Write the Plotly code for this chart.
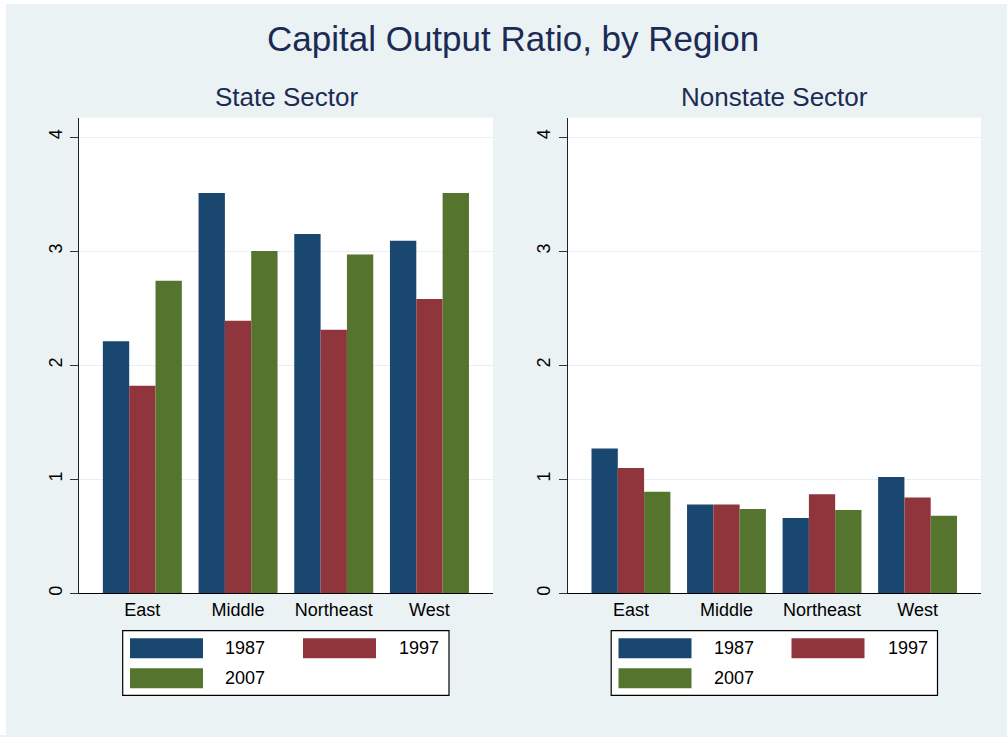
import plotly.graph_objects as go

# ---------------- data ----------------
regions = ["East", "Middle", "Northeast", "West"]
years = ["1987", "1997", "2007"]

state_1987 = [2.21, 3.51, 3.15, 3.09]
state_1997 = [1.82, 2.39, 2.31, 2.58]
state_2007 = [2.74, 3.00, 2.97, 3.51]

nonstate_1987 = [1.27, 0.78, 0.66, 1.02]
nonstate_1997 = [1.10, 0.78, 0.87, 0.84]
nonstate_2007 = [0.89, 0.74, 0.73, 0.68]

y_ticks = [0, 1, 2, 3, 4]

title_text = "Capital Output Ratio, by Region"
panel_titles = ["State Sector", "Nonstate Sector"]

# ---------------- styles ----------------
W, H = 1007, 737
colors = ["#1A476F", "#90353B", "#55752F"]
bg = "#EAF2F3"
title_col = "#1C2B55"
FONT = "Liberation Sans, Arial, sans-serif"


def px(x):
    return x / W


def py(y):
    return 1 - y / H


fig = go.Figure()

state_series = [state_1987, state_1997, state_2007]
nonstate_series = [nonstate_1987, nonstate_1997, nonstate_2007]

for i, (yr, vals) in enumerate(zip(years, state_series)):
    fig.add_trace(go.Bar(x=regions, y=vals, name=yr, marker=dict(color=colors[i], line=dict(width=0)),
                         xaxis="x", yaxis="y", showlegend=False, offsetgroup=str(i)))
for i, (yr, vals) in enumerate(zip(years, nonstate_series)):
    fig.add_trace(go.Bar(x=regions, y=vals, name=yr, marker=dict(color=colors[i], line=dict(width=0)),
                         xaxis="x2", yaxis="y2", showlegend=False, offsetgroup=str(i)))

y_bottom, y_top = 595, 118
unit = 114.4
yr_top = (y_bottom - y_top) / unit

panels = [(79, 493), (567.7, 981)]

xaxis_common = dict(
    type="category", range=[-0.662, 3.664], showgrid=False, ticks="",
    showline=True, linecolor="black", linewidth=1.2,
    tickfont=dict(family=FONT, size=18, color="black"), fixedrange=True,
    ticklabelstandoff=0,
)
yaxis_common = dict(
    range=[0, yr_top], tickvals=y_ticks, ticktext=[str(v) for v in y_ticks],
    tickangle=-90, ticks="outside", ticklen=8, tickcolor="#333333", tickwidth=1,
    showline=True, linecolor="#222222", linewidth=1.2,
    showgrid=True, gridcolor="#E6EFF2", gridwidth=1.3, zeroline=False,
    tickfont=dict(family=FONT, size=18, color="black"), fixedrange=True,
    ticklabelstandoff=1,
)

fig.update_layout(
    width=W, height=H,
    margin=dict(l=0, r=0, t=0, b=0),
    paper_bgcolor=bg, plot_bgcolor="white",
    barmode="group", bargap=0.1745, bargroupgap=0,
    showlegend=False,
    xaxis=dict(domain=[px(panels[0][0]), px(panels[0][1])], anchor="y", **xaxis_common),
    yaxis=dict(domain=[py(y_bottom), py(y_top)], anchor="x", **yaxis_common),
    xaxis2=dict(domain=[px(panels[1][0]), px(panels[1][1])], anchor="y2", **xaxis_common),
    yaxis2=dict(domain=[py(y_bottom), py(y_top)], anchor="x2", **yaxis_common),
    font=dict(family=FONT),
)

annotations = []
annotations.append(dict(text=title_text, x=px(512.7), y=py(39), xref="paper", yref="paper",
                        xanchor="center", yanchor="middle", showarrow=False,
                        font=dict(family=FONT, size=35, color=title_col)))
for (x0, x1), t in zip(panels, panel_titles):
    annotations.append(dict(text=t, x=px((x0 + x1) / 2), y=py(97), xref="paper", yref="paper",
                            xanchor="center", yanchor="middle", showarrow=False,
                            font=dict(family=FONT, size=26, color=title_col)))

shapes = []
# white page strips (left and top)
shapes.append(dict(type="rect", xref="paper", yref="paper", x0=0, x1=px(6), y0=0, y1=1,
                   fillcolor="white", line=dict(width=0), layer="above"))
shapes.append(dict(type="rect", xref="paper", yref="paper", x0=0, x1=1, y0=py(4), y1=1,
                   fillcolor="white", line=dict(width=0), layer="above"))

# legends (one per panel)
for dx in [0, 488.5]:
    shapes.append(dict(type="rect", xref="paper", yref="paper",
                       x0=px(122.7 + dx), x1=px(449 + dx), y0=py(697.3), y1=py(632.3),
                       fillcolor="white", line=dict(color="black", width=1.2), layer="above"))
    items = [(0, 130, 640, 223), (1, 303, 640, 397), (2, 130, 670, 223)]
    for ci, sx, sy, tx in items:
        shapes.append(dict(type="rect", xref="paper", yref="paper",
                           x0=px(sx + dx), x1=px(sx + 73 + dx), y0=py(sy + 20), y1=py(sy),
                           fillcolor=colors[ci], line=dict(width=0), layer="above"))
        annotations.append(dict(text=years[ci], x=px(tx + dx), y=py(sy + 10), xref="paper", yref="paper",
                                xanchor="left", yanchor="middle", showarrow=False,
                                font=dict(family=FONT, size=18, color="black")))

fig.update_layout(annotations=annotations, shapes=shapes)

fig.write_html("out.html", config={"displayModeBar": False},
               post_script="document.body.style.margin='0px';document.body.style.overflow='hidden';")
